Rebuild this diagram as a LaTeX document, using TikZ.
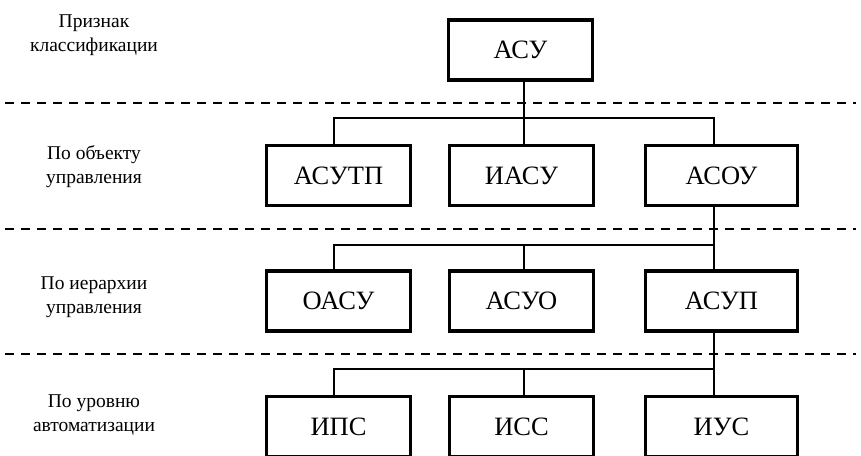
\documentclass[tikz,border=0pt]{standalone}
\usepackage{fontspec}
\setmainfont{Liberation Serif}
\begin{document}
\begin{tikzpicture}[x=1pt,y=-1pt,
  sysbox/.style={draw,line width=3.4pt,fill=white,inner sep=0pt,
    minimum width=144pt,minimum height=60pt,font=\fontsize{26.5}{30}\selectfont},
  widebox/.style={sysbox,minimum width=152pt},
  conn/.style={line width=1.6pt},
  levelsep/.style={line width=1.6pt,dash pattern=on 9pt off 7pt},
  levellabel/.style={align=center,inner sep=0pt,font=\fontsize{19.5}{24}\selectfont}]
\clip (0,0) rectangle (861,455);
\useasboundingbox (0,0) rectangle (861,455);

% level separators
\draw[levelsep] (5,103) -- (856,103);
\draw[levelsep] (5,229) -- (856,229);
\draw[levelsep] (5,354) -- (856,354);

% bus levels
\coordinate (busA) at (0,118);
\coordinate (busB) at (0,245);
\coordinate (busC) at (0,369);

% level labels
\node[levellabel] (l0) at (94,35) {Признак\\классификации};
\node[levellabel] (l1) at (94,167) {По объекту\\управления};
\node[levellabel] (l2) at (94,297) {По иерархии\\управления};
\node[levellabel] (l3) at (94,415) {По уровню\\автоматизации};

% systems
\node[sysbox] (acy)   at (520.5,50)  {АСУ};
\node[sysbox] (asutp) at (338.5,175.5) {АСУТП};
\node[sysbox] (iasu)  at (521.5,175.5) {ИАСУ};
\node[widebox] (asou) at (721.5,175.5) {АСОУ};
\node[sysbox] (oasu)  at (338.5,301) {ОАСУ};
\node[sysbox] (asuo)  at (521.5,301) {АСУО};
\node[widebox] (asup) at (721.5,301) {АСУП};
\node[sysbox] (ips)   at (338.5,426.5) {ИПС};
\node[sysbox] (iss)   at (521.5,426.5) {ИСС};
\node[widebox] (iys)  at (721.5,426.5) {ИУС};

% connectors: object level
\draw[conn] ([xshift=3.5pt]acy.south) -- ([xshift=2.5pt]iasu.north);
\draw[conn] ([xshift=-4.5pt]asutp.north) -- ([xshift=-4.5pt]asutp.north |- busA)
  -- ([xshift=-7.5pt]asou.north |- busA) -- ([xshift=-7.5pt]asou.north);

% connectors: hierarchy level
\draw[conn] ([xshift=-7.5pt]asou.south) -- ([xshift=-7.5pt]asup.north);
\draw[conn] ([xshift=-4.5pt]oasu.north) -- ([xshift=-4.5pt]oasu.north |- busB)
  -- ([xshift=-7.5pt]asup.north |- busB);
\draw[conn] ([xshift=2.5pt]asuo.north) -- ([xshift=2.5pt]asuo.north |- busB);

% connectors: automation level
\draw[conn] ([xshift=-7.5pt]asup.south) -- ([xshift=-7.5pt]iys.north);
\draw[conn] ([xshift=-4.5pt]ips.north) -- ([xshift=-4.5pt]ips.north |- busC)
  -- ([xshift=-7.5pt]iys.north |- busC);
\draw[conn] ([xshift=2.5pt]iss.north) -- ([xshift=2.5pt]iss.north |- busC);
\end{tikzpicture}
\end{document}
